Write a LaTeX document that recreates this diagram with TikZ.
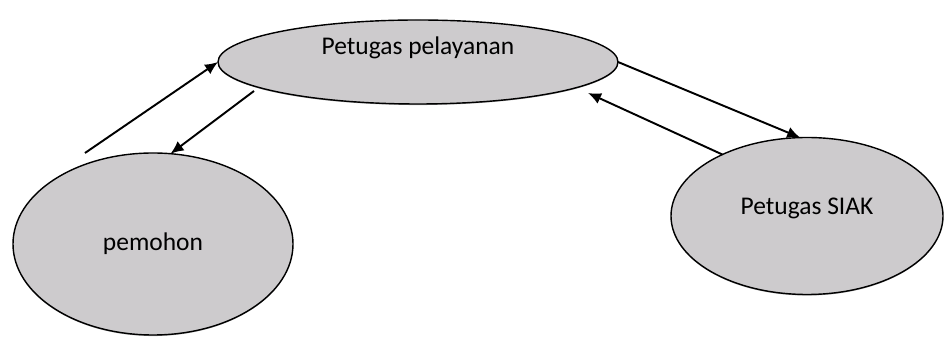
\documentclass[tikz,border=0pt]{standalone}
\usepackage{fontspec}
\setmainfont{Carlito}
\usetikzlibrary{shapes.geometric, arrows.meta, shadows}

\begin{document}
\begin{tikzpicture}[
    actor/.style={ellipse, draw, line width=0.8pt, fill=actgray, inner sep=0pt, outer sep=0pt,
        drop shadow={shadow xshift=0pt, shadow yshift=-0.6pt, fill=black!70}, font=\fontsize{14.5}{16}\selectfont},
    flow/.style={line width=1.1pt, -{Latex[length=2.6mm,width=2.3mm]}}
]
\definecolor{actgray}{RGB}{205,203,205}
\useasboundingbox (0,0) rectangle (19,6.76);
\node[actor, minimum width=8cm, minimum height=1.68cm, label={[yshift=2.8mm, font=\fontsize{14.5}{16}\selectfont]center:Petugas pelayanan}] (pelayanan) at (8.36,5.52) {};
\node[actor, minimum width=5.6cm, minimum height=3.64cm] (pemohon) at (3.06,1.88) {pemohon};
\node[actor, minimum width=5.44cm, minimum height=3.14cm, label={[yshift=1.6mm, font=\fontsize{14.5}{16}\selectfont]center:Petugas SIAK}] (siak) at (16.14,2.44) {};
\coordinate (p1) at (1.70,3.70);
\coordinate (p2) at (5.08,4.94);
\coordinate (p3) at (11.76,4.90);
\draw[flow] (p1) -- (pelayanan.west);
\draw[flow] (p2) -- (pemohon.79);
\draw[flow] (pelayanan.east) -- (siak.95);
\draw[flow] (siak.144) -- (p3);
\end{tikzpicture}
\end{document}
